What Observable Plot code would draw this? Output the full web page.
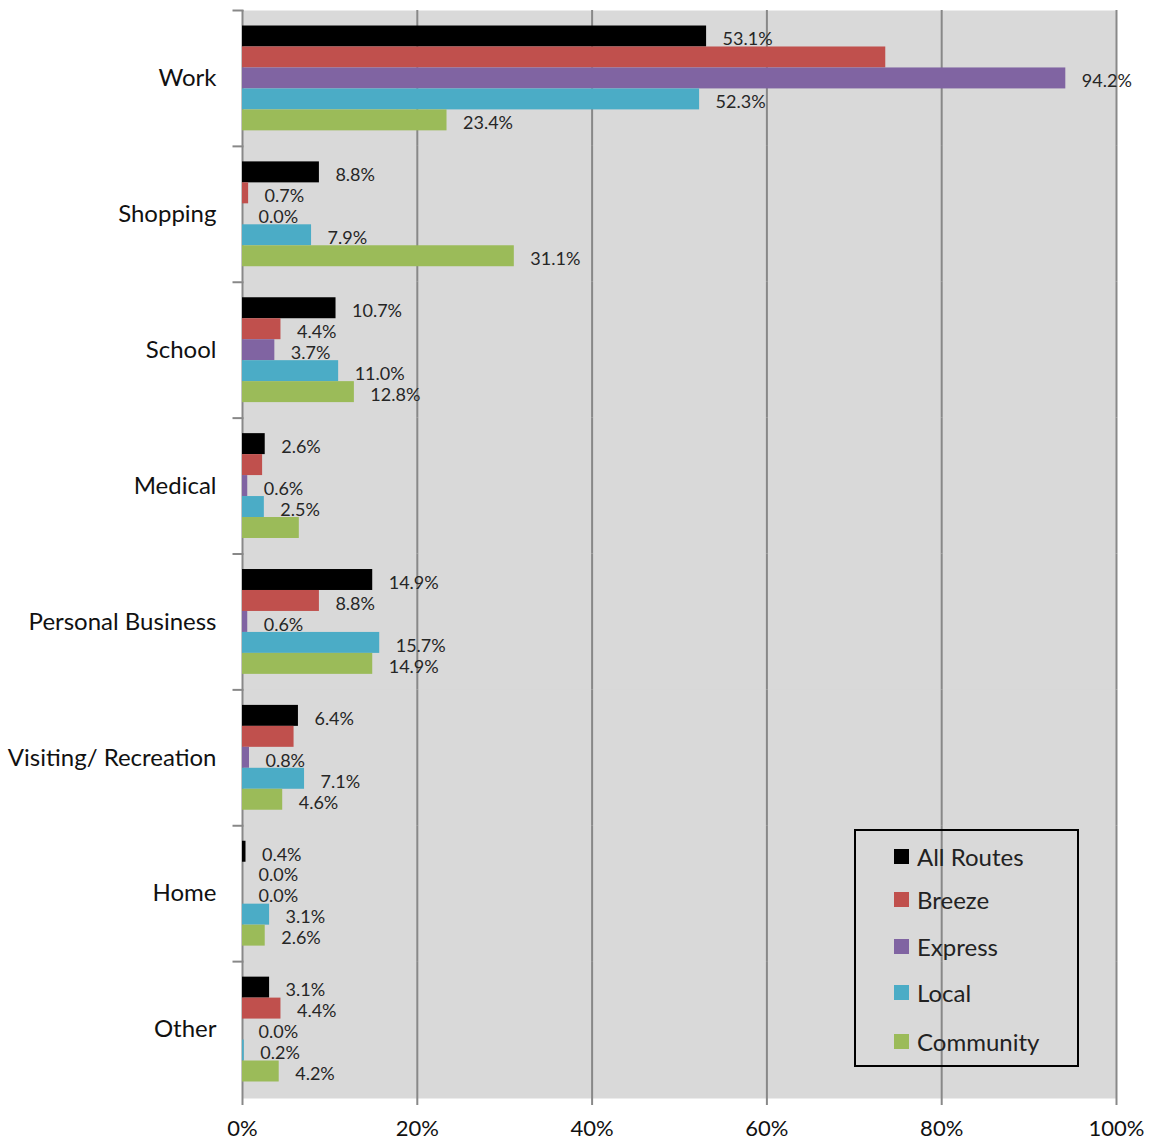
<!DOCTYPE html>
<html>
<head>
<meta charset="utf-8">
<script src="https://cdn.jsdelivr.net/npm/d3@7"></script>
<script src="https://cdn.jsdelivr.net/npm/@observablehq/plot@0.6"></script>
<style>
  body { margin: 0; background: white; font-family: Lato, "Open Sans", sans-serif; }
  #wrap { position: relative; width: 1154px; }
  #legend { position: absolute; left: 854px; top: 829px; width: 221px; height: 234px;
            border: 2px solid #000; box-sizing: content-box; }
  .item { position: absolute; left: 38px; display: flex; align-items: center; font-size: 24px; color: #222; }
  .sw { width: 15px; height: 15px; margin-right: 8px; }
</style>
</head>
<body>
<div id="wrap"></div>
<script>
const categories = ["Work", "Shopping", "School", "Medical", "Personal Business", "Visiting/ Recreation", "Home", "Other"];
const series = ["All Routes", "Breeze", "Express", "Local", "Community"];
const colors = ["#000000", "#c0504d", "#8064a2", "#4bacc6", "#9bbb59"];

const allRoutes = [53.1, 8.8, 10.7, 2.6, 14.9, 6.4, 0.4, 3.1];
const breeze    = [73.6, 0.7, 4.4, 2.3, 8.8, 5.9, 0.0, 4.4];
const express   = [94.2, 0.0, 3.7, 0.6, 0.6, 0.8, 0.0, 0.0];
const local     = [52.3, 7.9, 11.0, 2.5, 15.7, 7.1, 3.1, 0.2];
const community = [23.4, 31.1, 12.8, 6.5, 14.9, 4.6, 2.6, 4.2];

// labels not visible in the reference
const unlabeled = ["Work|Breeze", "Medical|Breeze", "Medical|Community", "Visiting/ Recreation|Breeze"];

const xTicks = [0, 20, 40, 60, 80, 100];

const seriesValues = [allRoutes, breeze, express, local, community];
const data = [];
categories.forEach((c, i) => {
  series.forEach((s, j) => data.push({category: c, series: s, value: seriesValues[j][i]}));
});
const labeled = data.filter(d => !unlabeled.includes(d.category + "|" + d.series));

const W = 1154, ML = 242, MR = 38;

const chart = Plot.plot({
  width: W,
  height: 1146,
  marginTop: 10,
  marginBottom: 49,
  marginLeft: ML,
  marginRight: MR,
  style: {fontFamily: "Lato, 'Open Sans', sans-serif", background: "white"},
  x: {domain: [0, 100]},
  y: {domain: series, paddingInner: 0, paddingOuter: 0.74, round: false, axis: null},
  fy: {domain: categories, padding: 0, round: false, label: null},
  color: {domain: series, range: colors},
  marks: [
    Plot.frame({fill: "#d9d9d9", stroke: "none", insetBottom: -1}),
    Plot.gridX(xTicks.slice(1), {stroke: "#888888", strokeOpacity: 1, strokeWidth: 2}),
    Plot.ruleX([0], {stroke: "#888888", strokeWidth: 2}),
    Plot.frame({anchor: "top", stroke: "#888888", strokeWidth: 2, insetLeft: -9, insetRight: W - ML - MR}),
    Plot.barX(data, {x: "value", y: "series", fy: "category", fill: "series"}),
    Plot.text(labeled, {
      x: "value", y: "series", fy: "category",
      text: d => d.value.toFixed(1) + "%",
      textAnchor: "start", dx: 16, dy: 3, fontSize: 18, fill: "#262626"
    }),
    Plot.axisFy({anchor: "left", tickSize: 0, tickPadding: 26, fontSize: 24, fill: "#111", label: null}),
    Plot.axisX(xTicks, {
      anchor: "bottom", tickSize: 8, tickPadding: 15, fontSize: 22, fill: "#111",
      stroke: "#888888", strokeWidth: 2, tickFormat: d => d + "%", label: null
    })
  ]
});

const wrap = document.getElementById("wrap");
wrap.appendChild(chart);

const legend = document.createElement("div");
legend.id = "legend";
const tops = [11, 54, 101, 147, 196];
series.forEach((s, i) => {
  const it = document.createElement("div");
  it.className = "item";
  it.style.top = tops[i] + "px";
  const sw = document.createElement("span");
  sw.className = "sw";
  sw.style.background = colors[i];
  const t = document.createElement("span");
  t.textContent = s;
  it.appendChild(sw);
  it.appendChild(t);
  legend.appendChild(it);
});
wrap.appendChild(legend);
</script>
</body>
</html>
